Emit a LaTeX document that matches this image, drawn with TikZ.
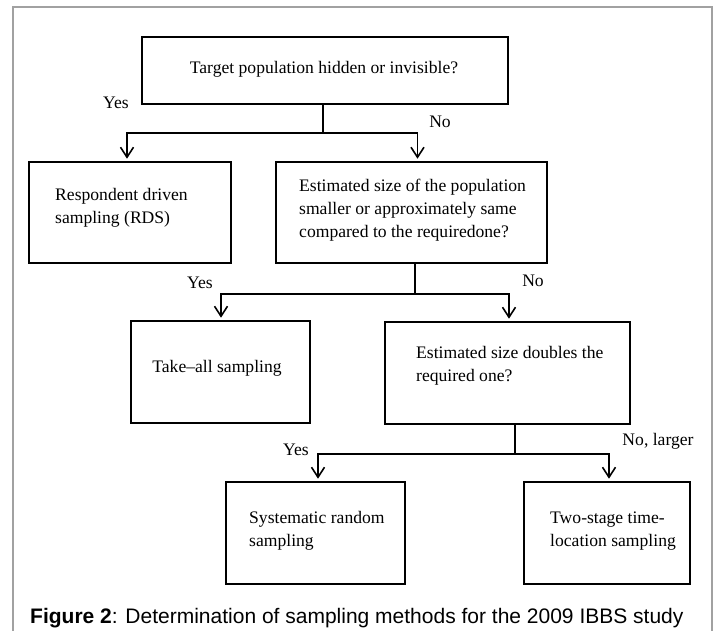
\documentclass[tikz,border=0pt]{standalone}
\usepackage{fontspec}
\setmainfont{Liberation Serif}
\newfontfamily\capfont{Liberation Sans}
\usetikzlibrary{arrows.meta}
\begin{document}
\begin{tikzpicture}[x=1pt,y=-1pt,
  box/.style={draw, line width=1.6pt, inner sep=0pt},
  conn/.style={line width=1.6pt},
  arr/.style={conn, -{Straight Barb[length=10pt,width=13pt]}, shorten >=2.5pt},
  lbl/.style={font=\fontsize{17.6}{22}\selectfont, inner sep=0pt},
  txt/.style={font=\fontsize{17.6}{22.8}\selectfont, inner sep=0pt, align=left},
  frame/.style={draw=black!37, line width=2pt}]
\useasboundingbox (0,0) rectangle (717,630);
% outer frame
\draw[frame] (13,640) -- (13,7) -- (712,7) -- (712,640);
% boxes
\node[box, minimum width=366pt, minimum height=67pt] (top) at (325,70.5) {};
\node[box, minimum width=202pt, minimum height=101pt] (rds) at (130,212.5) {};
\node[box, minimum width=271pt, minimum height=101pt] (est) at (411.5,212.5) {};
\node[box, minimum width=179pt, minimum height=102pt] (take) at (220.5,372) {};
\node[box, minimum width=245pt, minimum height=102pt] (est2) at (507.5,373) {};
\node[box, minimum width=179pt, minimum height=102pt] (sys) at (315.5,533) {};
\node[box, minimum width=166pt, minimum height=102pt] (two) at (607,533) {};
% texts
\node[txt] (ttop) at (324,69) {Target population hidden or invisible?};
\node[txt, anchor=west] (trds) at (55,208) {Respondent driven\\sampling (RDS)};
\node[txt, anchor=west] (test) at (299,210) {Estimated size of the population\\smaller or approximately same\\compared to the requiredone?};
\node[txt] (ttake) at (217,368) {Take\textendash all sampling};
\node[txt, anchor=west] (test2) at (416,366) {Estimated size doubles the\\required one?};
\node[txt, anchor=west] (tsys) at (249,531) {Systematic random\\sampling};
\node[txt, anchor=west] (ttwo) at (550,531) {Two-stage time-\\location sampling};
% junctions
\coordinate (j1) at (323,133);
\coordinate (j2) at (415,294);
\coordinate (j3) at (515,454);
% connectors
\draw[conn] ([xshift=-2pt]top.south) -- (j1);
\draw[arr] (j1) -| ([xshift=-3pt]rds.north);
\draw[arr] (j1) -| ([xshift=6pt]est.north);
\draw[conn] ([xshift=3.5pt]est.south) -- (j2);
\draw[arr] (j2) -| ([xshift=0.5pt]take.north);
\draw[arr] (j2) -| ([xshift=1.5pt]est2.north);
\draw[conn] ([xshift=7.5pt]est2.south) -- (j3);
\draw[arr] (j3) -| ([xshift=2.5pt]sys.north);
\draw[arr] (j3) -| ([xshift=2pt]two.north);
% labels
\node[lbl] (y1) at (116,103) {Yes};
\node[lbl] (n1) at (440,122) {No};
\node[lbl] (y2) at (200,283) {Yes};
\node[lbl] (n2) at (533,281) {No};
\node[lbl] (y3) at (296,450) {Yes};
\node[lbl] (n3) at (658,441) {No, larger};
% caption
\node[inner sep=0pt, anchor=base west, font=\capfont\fontsize{21}{24}\selectfont] (cap) at (30,623)
  {\textbf{Figure 2}: Determination of sampling methods for the 2009 IBBS study};
\end{tikzpicture}
\end{document}
